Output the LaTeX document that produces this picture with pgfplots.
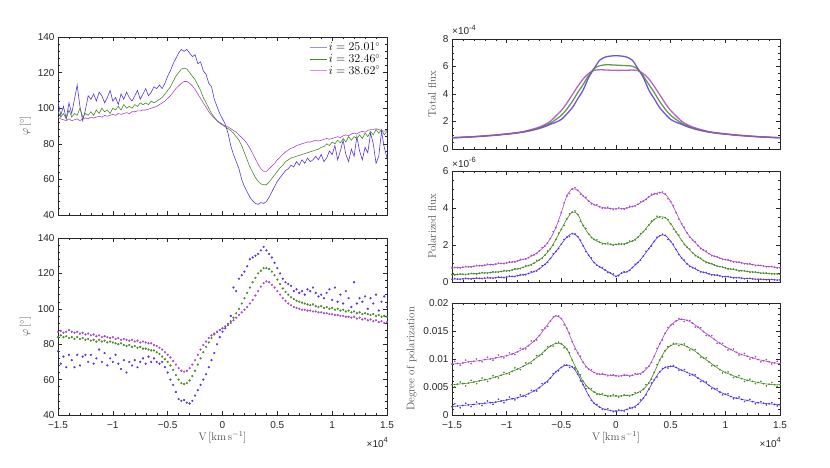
\documentclass[border=0pt]{standalone}
\usepackage{pgfplots}
\pgfplotsset{compat=1.18}
\usepackage{pgfplotstable}
\usepackage{fontspec}
\newfontfamily\tickfont{Liberation Sans}
\definecolor{cb}{RGB}{88,52,224}
\definecolor{cg}{RGB}{72,138,38}
\definecolor{cp}{RGB}{168,72,200}
\definecolor{cbl}{RGB}{160,140,240}
\definecolor{cpl}{RGB}{205,150,225}
\definecolor{axc}{RGB}{38,38,38}

\pgfplotstableread{
x b g p
-1.500 104 98 95
-1.475 96 95 94
-1.450 101 97 93.5
-1.425 94 94 93
-1.400 103 99 94
-1.375 97 95 93
-1.350 105 97 93.5
-1.325 113 96 94
-1.300 101 100 93
-1.275 93 95 94
-1.250 99 97 94.5
-1.225 107 96 94
-1.200 105 98 95
-1.175 108 96 94.5
-1.150 104 99 95
-1.125 109 97 95.5
-1.100 107 100 95
-1.075 103 98 96
-1.050 106 99 95.5
-1.025 110 97 96
-1.000 104 100 96.5
-0.975 106 99 96
-0.950 102 101 97
-0.925 108 99 96.5
-0.900 105 102 97
-0.875 109 100 97.5
-0.850 106 101 97
-0.825 104 100 98
-0.800 107 102 98
-0.775 110 101 98.5
-0.750 105 103 98.5
-0.725 108 102 99
-0.700 111 103 99
-0.675 107 102 99.5
-0.650 109 104 100
-0.625 112 103 100.5
-0.600 111 104 101
-0.575 113 105 102
-0.550 111 106 103
-0.525 114 108 104
-0.500 118 110 105.5
-0.475 121 112 107
-0.450 125 115 109
-0.425 128 118 111
-0.400 131 120 112.5
-0.375 133 122 114
-0.350 132 122.5 115
-0.325 133 122 115
-0.300 131 120 114
-0.275 129 118 112.5
-0.250 130 116 110.5
-0.225 125 113 108
-0.200 126 110 105.5
-0.175 121 106 103
-0.150 119 103 100.5
-0.125 114 100 98
-0.100 112 97 96
-0.075 105 95 94.5
-0.050 101 93 93
-0.025 97 91.5 92
0.000 94 90.5 91
0.025 91 89.5 90
0.050 86 88.5 89.5
0.075 79 87.5 88.5
0.100 74 86 87.5
0.125 70 84 86.5
0.150 66 82 85
0.175 60 79 83.5
0.200 56 75 82
0.225 53 71 80
0.250 50 67 77.5
0.275 48 64 74.5
0.300 46.5 61 71.5
0.325 46 59 68.5
0.350 47 57.5 66
0.375 46.5 57 64.5
0.400 47.5 57 64.5
0.425 50 58.5 66
0.450 53 60.5 67.5
0.475 56 62.5 69
0.500 59 64.5 71
0.525 61 66.5 72.5
0.550 63 68 74
0.575 65 70 75.5
0.600 66 71 76.5
0.625 68 72 77.5
0.650 67 72.5 78
0.675 70 73 79
0.700 68 73.5 79.5
0.725 71 74 80
0.750 69 74.5 80.5
0.775 72 75 81
0.800 70 75.5 81
0.825 71 76 81.5
0.850 73 76.5 82
0.875 71 77 81.5
0.900 74 78 82
0.925 70 78.5 82.5
0.950 72 80 83
0.975 76 79 82.5
1.000 74 81 83
1.025 79 80 83.5
1.050 71 82 84
1.075 76 80.5 83.5
1.100 82 83 84.5
1.125 74 81 85
1.150 70 84 84.5
1.175 77 82 85.5
1.200 73 84 86
1.225 84 83 85.5
1.250 76 85 86.5
1.275 71 83 87
1.300 78 86 86.5
1.325 75 84 87.5
1.350 86 87 88
1.375 80 85 88
1.400 69 88 88.5
1.425 73 86 88
1.450 87 88 87.5
1.475 78 85 87
1.500 72 87 87.5
}\phitop

\pgfplotstableread{
x b g p
-1.500 76 84 87
-1.475 69 85 87.5
-1.450 73 84 86.5
-1.425 67 84.5 87
-1.400 74 83.5 88
-1.375 71 84 87
-1.350 67 83 86.5
-1.325 74 84 87
-1.300 68 83 86
-1.275 73 83.5 86.5
-1.250 74 82.5 85.5
-1.225 70 83 86
-1.200 74 82 85
-1.175 69 82.5 85.5
-1.150 72 81.5 84.5
-1.125 77 82.5 85
-1.100 70 81.5 84
-1.075 75 82 84.5
-1.050 68 81 84
-1.025 72 81.5 83.5
-1.000 70 81 84
-0.975 74 80.5 83
-0.950 69 80 83.5
-0.925 66 80.5 82.5
-0.900 71 79.5 83
-0.875 64 79 82.5
-0.850 70 79.5 82
-0.825 68 78.5 82.5
-0.800 71 79 81.5
-0.775 67 78 82
-0.750 70 78.5 81
-0.725 72 77.5 81.5
-0.700 69 77.5 81
-0.675 73 77 80.5
-0.650 70 76.5 80.5
-0.625 72 76.5 79.5
-0.600 70 75.5 79
-0.575 69 74.5 78
-0.550 70 73 77
-0.525 67 71.5 75.5
-0.500 64 70 74
-0.475 60 68 72.5
-0.450 57 65.5 70.5
-0.425 53 62.5 68.5
-0.400 49 60 66.5
-0.375 48 58 65
-0.350 48.5 57.5 64.5
-0.325 47 58 65
-0.300 46.5 59.5 66.5
-0.275 48 62 68.5
-0.250 51 65 71
-0.225 54 68.5 74
-0.200 57 72 77
-0.175 60 75.5 79.5
-0.150 63 78.5 81.5
-0.125 67 81 83.5
-0.100 71 83.5 85
-0.075 75 85.5 86
-0.050 80 87 87
-0.025 84 88 88
0.000 87 89 89
0.025 89 90 90
0.050 91 91.5 91
0.075 96 93 92
0.100 112 95 93.5
0.125 110 97.5 95
0.150 117 100 96.5
0.175 119 103 98
0.200 121 106 99.5
0.225 124 109 101
0.250 128 112 103
0.275 129 115 105
0.300 130 117.5 107.5
0.325 131 120 110
0.350 133 121.5 112.5
0.375 135 123 114.5
0.400 133 123 115.5
0.425 131 122.5 115
0.450 129 121 113.5
0.475 126 119 112
0.500 123 116.5 110
0.525 120 114 108
0.550 117 111.5 106
0.575 115 109.5 104.5
0.600 114 108 103
0.625 113 106.5 102
0.650 110 105.5 101
0.675 111 104.5 100.5
0.700 109 104 100
0.725 110 103.5 99.5
0.750 108 103 99.5
0.775 111 102.5 99
0.800 110 102 99
0.825 112 102.5 98.5
0.850 109 101.5 98.5
0.875 107 101 98
0.900 108 101.5 98
0.925 106 100.5 97.5
0.950 109 101 97.5
0.975 111 100 97
1.000 105 100.5 97
1.025 112 99.5 96.5
1.050 104 100 96.5
1.075 108 99 96
1.100 103 99.5 96
1.125 110 98.5 95.5
1.150 106 99 95.5
1.175 101 98 95
1.200 115 98.5 95.5
1.225 103 97.5 94.5
1.250 106 98 95
1.275 104 97 94
1.300 107 97.5 94.5
1.325 100 97 93.5
1.350 106 96.5 94
1.375 103 97 93
1.400 108 96 93.5
1.425 99 96.5 92.5
1.450 104 95.5 93
1.475 107 96 92
1.500 101 95.5 92.5
}\phibot

\pgfplotstableread{
x b g p
-1.50 0.82 0.82 0.83
-1.45 0.83 0.83 0.84
-1.40 0.85 0.85 0.86
-1.35 0.87 0.87 0.88
-1.30 0.89 0.89 0.90
-1.25 0.91 0.92 0.93
-1.20 0.94 0.95 0.96
-1.15 0.97 0.98 0.99
-1.10 1.00 1.01 1.02
-1.05 1.04 1.05 1.06
-1.00 1.08 1.09 1.10
-0.95 1.12 1.13 1.15
-0.90 1.17 1.18 1.20
-0.85 1.23 1.24 1.26
-0.80 1.30 1.33 1.36
-0.75 1.39 1.43 1.47
-0.70 1.50 1.55 1.60
-0.65 1.63 1.70 1.78
-0.60 1.80 1.88 2.02
-0.55 1.95 2.15 2.40
-0.50 2.15 2.45 2.80
-0.45 2.55 2.90 3.33
-0.40 3.00 3.45 3.95
-0.35 3.65 4.10 4.55
-0.30 4.30 4.70 5.10
-0.25 5.20 5.35 5.50
-0.20 5.85 5.85 5.72
-0.15 6.45 6.05 5.76
-0.10 6.68 6.12 5.75
-0.05 6.76 6.12 5.73
0.00 6.78 6.10 5.72
0.05 6.76 6.08 5.72
0.10 6.68 6.06 5.73
0.15 6.45 6.02 5.74
0.20 5.85 5.80 5.70
0.25 5.20 5.30 5.48
0.30 4.30 4.70 5.10
0.35 3.65 4.10 4.55
0.40 3.00 3.45 3.95
0.45 2.55 2.90 3.33
0.50 2.15 2.45 2.80
0.55 1.95 2.15 2.40
0.60 1.80 1.88 2.02
0.65 1.63 1.70 1.78
0.70 1.50 1.55 1.60
0.75 1.39 1.43 1.47
0.80 1.30 1.33 1.36
0.85 1.23 1.24 1.26
0.90 1.17 1.18 1.20
0.95 1.12 1.13 1.15
1.00 1.08 1.09 1.10
1.05 1.04 1.05 1.06
1.10 1.00 1.01 1.02
1.15 0.97 0.98 0.99
1.20 0.94 0.95 0.96
1.25 0.91 0.92 0.93
1.30 0.89 0.89 0.90
1.35 0.87 0.87 0.88
1.40 0.85 0.85 0.86
1.45 0.83 0.83 0.84
1.50 0.82 0.82 0.83
}\totflux

\pgfplotstableread{
x p g b
-1.50 0.76 0.40 0.15
-1.45 0.78 0.41 0.16
-1.40 0.80 0.42 0.17
-1.35 0.82 0.43 0.18
-1.30 0.85 0.45 0.19
-1.25 0.88 0.47 0.20
-1.20 0.91 0.49 0.21
-1.15 0.94 0.51 0.22
-1.10 0.97 0.54 0.23
-1.05 1.00 0.57 0.25
-1.00 1.03 0.60 0.27
-0.95 1.08 0.65 0.30
-0.90 1.14 0.71 0.34
-0.85 1.22 0.79 0.39
-0.80 1.32 0.89 0.46
-0.75 1.47 1.02 0.56
-0.70 1.68 1.20 0.72
-0.65 1.95 1.45 0.95
-0.60 2.35 1.80 1.27
-0.55 2.95 2.30 1.65
-0.50 3.75 2.85 2.05
-0.45 4.65 3.40 2.42
-0.40 5.03 3.78 2.62
-0.35 4.95 3.65 2.45
-0.30 4.65 3.05 1.95
-0.25 4.38 2.60 1.45
-0.20 4.18 2.30 1.05
-0.15 4.07 2.15 0.82
-0.10 4.00 2.07 0.65
-0.05 3.97 2.04 0.48
0.00 3.95 2.03 0.30
0.05 3.96 2.05 0.48
0.10 4.00 2.10 0.55
0.15 4.08 2.22 0.78
0.20 4.20 2.42 1.05
0.25 4.38 2.72 1.40
0.30 4.60 3.08 1.80
0.35 4.76 3.38 2.20
0.40 4.83 3.52 2.50
0.45 4.75 3.48 2.52
0.50 4.35 3.15 2.20
0.55 3.75 2.70 1.75
0.60 3.15 2.25 1.30
0.65 2.65 1.88 0.98
0.70 2.28 1.58 0.78
0.75 1.97 1.35 0.63
0.80 1.72 1.16 0.52
0.85 1.53 1.02 0.44
0.90 1.39 0.92 0.38
0.95 1.29 0.83 0.33
1.00 1.21 0.76 0.29
1.05 1.14 0.70 0.26
1.10 1.08 0.65 0.23
1.15 1.03 0.61 0.21
1.20 0.98 0.57 0.19
1.25 0.94 0.54 0.17
1.30 0.90 0.51 0.15
1.35 0.86 0.48 0.14
1.40 0.83 0.46 0.13
1.45 0.80 0.44 0.12
1.50 0.77 0.42 0.11
}\polflux

\pgfplotstableread{
x p g b
-1.475 0.79 0.38 0.19
-1.425 0.76 0.44 0.14
-1.375 0.84 0.40 0.20
-1.325 0.81 0.47 0.16
-1.275 0.90 0.43 0.23
-1.225 0.87 0.51 0.18
-1.175 0.96 0.47 0.25
-1.125 0.93 0.56 0.20
-1.075 1.02 0.52 0.27
-1.025 0.99 0.62 0.23
-0.975 1.09 0.60 0.32
-0.925 1.08 0.72 0.29
-0.875 1.22 0.72 0.40
-0.825 1.24 0.88 0.39
-0.775 1.44 0.92 0.55
-0.725 1.54 1.16 0.60
-0.675 1.86 1.28 0.88
-0.625 2.10 1.68 1.06
-0.575 2.72 2.00 1.52
-0.525 3.28 2.64 1.80
-0.475 4.28 3.06 2.30
-0.425 4.78 3.68 2.46
-0.375 5.10 3.84 2.60
-0.325 4.74 3.28 2.26
-0.275 4.58 2.90 1.64
-0.225 4.22 2.40 1.30
-0.175 4.18 2.28 0.90
-0.125 3.98 2.06 0.78
-0.075 4.04 2.10 0.52
-0.025 3.92 1.99 0.44
0.025 4.00 2.08 0.34
0.075 3.93 2.03 0.56
0.125 4.09 2.21 0.62
0.175 4.10 2.27 0.96
0.225 4.34 2.62 1.18
0.275 4.45 2.85 1.66
0.325 4.74 3.30 1.95
0.375 4.76 3.55 2.42
0.425 4.86 3.44 2.58
0.475 4.50 3.38 2.30
0.525 4.12 2.86 2.03
0.575 3.40 2.53 1.48
0.625 2.96 2.02 1.19
0.675 2.42 1.78 0.84
0.725 2.17 1.42 0.74
0.775 1.80 1.29 0.54
0.825 1.67 1.05 0.51
0.875 1.42 1.00 0.38
0.925 1.37 0.84 0.38
0.975 1.22 0.82 0.28
1.025 1.20 0.70 0.30
1.075 1.08 0.70 0.22
1.125 1.08 0.60 0.24
1.175 0.98 0.61 0.18
1.225 0.99 0.53 0.20
1.275 0.89 0.55 0.14
1.325 0.90 0.47 0.16
1.375 0.82 0.49 0.12
1.425 0.84 0.43 0.14
1.475 0.76 0.45 0.10
}\polfluxobs

\pgfplotstableread{
x p g b
-1.50 0.0091 0.0054 0.0015
-1.45 0.0092 0.0055 0.0016
-1.40 0.0093 0.0056 0.0017
-1.35 0.0095 0.0057 0.0018
-1.30 0.0096 0.0059 0.0019
-1.25 0.0097 0.0061 0.0020
-1.20 0.0099 0.0063 0.0021
-1.15 0.0100 0.0065 0.0022
-1.10 0.0102 0.0068 0.0023
-1.05 0.0104 0.0071 0.0025
-1.00 0.0106 0.0074 0.0027
-0.95 0.0109 0.0078 0.0029
-0.90 0.0113 0.0082 0.0031
-0.85 0.0118 0.0087 0.0034
-0.80 0.0124 0.0092 0.0038
-0.75 0.0132 0.0099 0.0043
-0.70 0.0142 0.0106 0.0049
-0.65 0.0155 0.0115 0.0057
-0.60 0.0168 0.0123 0.0066
-0.55 0.0177 0.0128 0.0077
-0.50 0.0172 0.0127 0.0085
-0.45 0.0155 0.0118 0.0089
-0.40 0.0131 0.0098 0.0086
-0.35 0.0111 0.0078 0.0073
-0.30 0.0094 0.0060 0.0054
-0.25 0.0082 0.0048 0.0035
-0.20 0.0076 0.0041 0.0021
-0.15 0.0073 0.0037 0.0014
-0.10 0.0072 0.0035 0.0010
-0.05 0.0071 0.0034 0.0008
0.00 0.0070 0.0034 0.0007
0.05 0.0070 0.0034 0.0008
0.10 0.0071 0.0035 0.0010
0.15 0.0071 0.0036 0.0013
0.20 0.0073 0.0040 0.0019
0.25 0.0077 0.0046 0.0030
0.30 0.0087 0.0057 0.0046
0.35 0.0105 0.0076 0.0063
0.40 0.0127 0.0098 0.0077
0.45 0.0146 0.0115 0.0085
0.50 0.0160 0.0124 0.0087
0.55 0.0168 0.0127 0.0085
0.60 0.0171 0.0126 0.0080
0.65 0.0169 0.0122 0.0076
0.70 0.0164 0.0117 0.0072
0.75 0.0157 0.0110 0.0066
0.80 0.0149 0.0102 0.0060
0.85 0.0142 0.0095 0.0053
0.90 0.0135 0.0088 0.0047
0.95 0.0128 0.0081 0.0041
1.00 0.0122 0.0076 0.0037
1.05 0.0117 0.0072 0.0033
1.10 0.0112 0.0068 0.0030
1.15 0.0108 0.0065 0.0028
1.20 0.0105 0.0062 0.0026
1.25 0.0102 0.0060 0.0024
1.30 0.0099 0.0058 0.0022
1.35 0.0097 0.0056 0.0021
1.40 0.0095 0.0055 0.0020
1.45 0.0093 0.0054 0.0019
1.50 0.0092 0.0054 0.0018
}\degpol

\pgfplotstableread{
x p g b
-1.475 0.0096 0.0050 0.0020
-1.425 0.0089 0.0059 0.0013
-1.375 0.0098 0.0052 0.0021
-1.325 0.0092 0.0062 0.0015
-1.275 0.0100 0.0056 0.0023
-1.225 0.0095 0.0066 0.0017
-1.175 0.0103 0.0060 0.0025
-1.125 0.0098 0.0070 0.0019
-1.075 0.0107 0.0066 0.0028
-1.025 0.0102 0.0076 0.0022
-0.975 0.0111 0.0073 0.0032
-0.925 0.0108 0.0084 0.0027
-0.875 0.0119 0.0081 0.0036
-0.825 0.0118 0.0093 0.0033
-0.775 0.0132 0.0092 0.0044
-0.725 0.0134 0.0106 0.0043
-0.675 0.0152 0.0108 0.0056
-0.625 0.0158 0.0122 0.0059
-0.575 0.0175 0.0123 0.0074
-0.525 0.0177 0.0130 0.0079
-0.475 0.0161 0.0120 0.0089
-0.425 0.0146 0.0111 0.0085
-0.375 0.0118 0.0085 0.0082
-0.325 0.0105 0.0072 0.0061
-0.275 0.0086 0.0052 0.0047
-0.225 0.0081 0.0047 0.0026
-0.175 0.0073 0.0037 0.0019
-0.125 0.0074 0.0038 0.0010
-0.075 0.0070 0.0033 0.0011
-0.025 0.0072 0.0036 0.0006
0.025 0.0069 0.0032 0.0009
0.075 0.0072 0.0036 0.0007
0.125 0.0069 0.0034 0.0013
0.175 0.0074 0.0040 0.0014
0.225 0.0073 0.0041 0.0027
0.275 0.0084 0.0054 0.0036
0.325 0.0094 0.0064 0.0057
0.375 0.0119 0.0090 0.0068
0.425 0.0134 0.0104 0.0083
0.475 0.0156 0.0122 0.0084
0.525 0.0162 0.0128 0.0088
0.575 0.0172 0.0124 0.0080
0.625 0.0167 0.0127 0.0081
0.675 0.0169 0.0116 0.0071
0.725 0.0157 0.0117 0.0072
0.775 0.0156 0.0103 0.0060
0.825 0.0142 0.0102 0.0059
0.875 0.0142 0.0088 0.0047
0.925 0.0128 0.0088 0.0047
0.975 0.0128 0.0075 0.0036
1.025 0.0116 0.0077 0.0038
1.075 0.0118 0.0067 0.0029
1.125 0.0107 0.0070 0.0032
1.175 0.0110 0.0060 0.0024
1.225 0.0100 0.0064 0.0028
1.275 0.0104 0.0056 0.0020
1.325 0.0095 0.0060 0.0024
1.375 0.0099 0.0052 0.0018
1.425 0.0091 0.0058 0.0022
1.475 0.0096 0.0051 0.0016
}\degpolobs

\pgfplotsset{
  panel/.style={
    scale only axis,
    xmin=-1.5, xmax=1.5,
    xtick={-1.5,-1,-0.5,0,0.5,1,1.5},
    minor x tick num=4,
    tick align=inside,
    major tick length=4pt,
    minor tick length=2pt,
    every tick/.style={axc, line width=0.4pt},
    axis line style={axc, line width=0.5pt},
    tick label style={font=\tickfont\fontsize{10}{12}\selectfont, text=axc},
    label style={font=\fontsize{11}{13}\selectfont, text=black!70},
    scaled ticks=false,
    /pgf/number format/assume math mode=true,
  },
  noxlab/.style={xticklabels={}},
  withxlab/.style={xticklabels={−1.5,−1,−0.5,0,0.5,1,1.5},
    xticklabel style={yshift=-3pt},
    xlabel={V$\,[\mathrm{km\,s^{-1}}]$},
    xlabel style={yshift=4pt}},
}

\begin{document}
\begin{tikzpicture}
\useasboundingbox (0,0) rectangle (830pt,467pt);

% left top
\begin{axis}[panel, noxlab, at={(58pt,252pt)}, anchor=south west,
  width=329pt, height=178pt,
  ymin=40, ymax=140, ytick={40,60,...,140}, minor y tick num=4,
  ylabel={$\varphi\,[^\circ]$},
  legend style={draw=none, fill=none, at={(0.995,0.99)}, anchor=north east,
    font=\fontsize{12}{14}\selectfont, row sep=-2pt},
  legend cell align=left]
\addlegendimage{empty legend}
\addlegendentry{\textcolor{cbl}{\rule[0.55ex]{17pt}{1.4pt}}\,$i=25.01^\circ$}
\addlegendimage{empty legend}
\addlegendentry{\textcolor{cg}{\rule[0.6ex]{17pt}{0.8pt}}\,$i=32.46^\circ$}
\addlegendimage{empty legend}
\addlegendentry{\textcolor{cpl}{\rule[0.55ex]{17pt}{1.4pt}}\,$i=38.62^\circ$}
\addplot[cb, line width=0.6pt, forget plot] table[x=x,y=b]{\phitop};
\addplot[cg, line width=0.6pt, forget plot] table[x=x,y=g]{\phitop};
\addplot[cp, line width=0.6pt, forget plot] table[x=x,y=p]{\phitop};
\end{axis}

% left bottom
\begin{axis}[panel, withxlab, at={(58pt,52pt)}, anchor=south west,
  width=329pt, height=177pt,
  ymin=40, ymax=140, ytick={40,60,...,140}, minor y tick num=4,
  ylabel={$\varphi\,[^\circ]$}]
\addplot[only marks, cb, mark=*, mark size=0.9pt] table[x=x,y=b]{\phibot};
\addplot[only marks, cg, mark=*, mark size=0.9pt] table[x=x,y=g]{\phibot};
\addplot[only marks, cp, mark=*, mark size=0.9pt] table[x=x,y=p]{\phibot};
\end{axis}
\node[anchor=base east, font=\tickfont\fontsize{10}{12}\selectfont, text=axc, inner sep=0pt] at (388pt,20pt) {×10\raisebox{0.9ex}{\fontsize{7.5}{8}\selectfont 4}};

% right top: total flux
\begin{axis}[panel, noxlab, at={(452pt,318pt)}, anchor=south west,
  width=328pt, height=110pt,
  ymin=0, ymax=8, ytick={0,2,4,6,8}, minor y tick num=3,
  ylabel={Total flux}]
\addplot[cb, line width=1.3pt, opacity=0.85, smooth] table[x=x,y=b]{\totflux};
\addplot[cg, line width=1.3pt, opacity=0.85, smooth] table[x=x,y=g]{\totflux};
\addplot[cp, line width=1.3pt, opacity=0.85, smooth] table[x=x,y=p]{\totflux};
\end{axis}
\node[anchor=base west, font=\tickfont\fontsize{10}{12}\selectfont, text=axc, inner sep=0pt] at (452pt,432pt) {×10\raisebox{0.9ex}{\fontsize{7.5}{8}\selectfont -4}};

% right middle: polarized flux
\begin{axis}[panel, noxlab, at={(452pt,185pt)}, anchor=south west,
  width=328pt, height=111pt,
  ymin=0, ymax=6, ytick={0,2,4,6}, minor y tick num=3,
  ylabel={Polarized flux}]
\addplot[cp, line width=0.6pt, smooth, mark=*, mark size=0.55pt] table[x=x,y=p]{\polflux};
\addplot[cg, line width=0.6pt, smooth, mark=*, mark size=0.55pt] table[x=x,y=g]{\polflux};
\addplot[cb, line width=0.6pt, smooth, mark=*, mark size=0.55pt] table[x=x,y=b]{\polflux};
\addplot[only marks, cp, mark=*, mark size=0.6pt] table[x=x,y=p]{\polfluxobs};
\addplot[only marks, cg, mark=*, mark size=0.6pt] table[x=x,y=g]{\polfluxobs};
\addplot[only marks, cb, mark=*, mark size=0.6pt] table[x=x,y=b]{\polfluxobs};
\end{axis}
\node[anchor=base west, font=\tickfont\fontsize{10}{12}\selectfont, text=axc, inner sep=0pt] at (452pt,300pt) {×10\raisebox{0.9ex}{\fontsize{7.5}{8}\selectfont -6}};

% right bottom: degree of polarization
\begin{axis}[panel, withxlab, at={(452pt,52pt)}, anchor=south west,
  width=328pt, height=112pt,
  ymin=0, ymax=0.02, ytick={0,0.005,0.01,0.015,0.02},
  yticklabels={0,0.005,0.01,0.015,0.02}, minor y tick num=4,
  ylabel={Degree of polarization}]
\addplot[cp, line width=0.6pt, smooth, mark=*, mark size=0.55pt] table[x=x,y=p]{\degpol};
\addplot[cg, line width=0.6pt, smooth, mark=*, mark size=0.55pt] table[x=x,y=g]{\degpol};
\addplot[cb, line width=0.6pt, smooth, mark=*, mark size=0.55pt] table[x=x,y=b]{\degpol};
\addplot[only marks, cp, mark=*, mark size=0.6pt] table[x=x,y=p]{\degpolobs};
\addplot[only marks, cg, mark=*, mark size=0.6pt] table[x=x,y=g]{\degpolobs};
\addplot[only marks, cb, mark=*, mark size=0.6pt] table[x=x,y=b]{\degpolobs};
\end{axis}
\node[anchor=base east, font=\tickfont\fontsize{10}{12}\selectfont, text=axc, inner sep=0pt] at (781pt,20pt) {×10\raisebox{0.9ex}{\fontsize{7.5}{8}\selectfont 4}};
\end{tikzpicture}
\end{document}
